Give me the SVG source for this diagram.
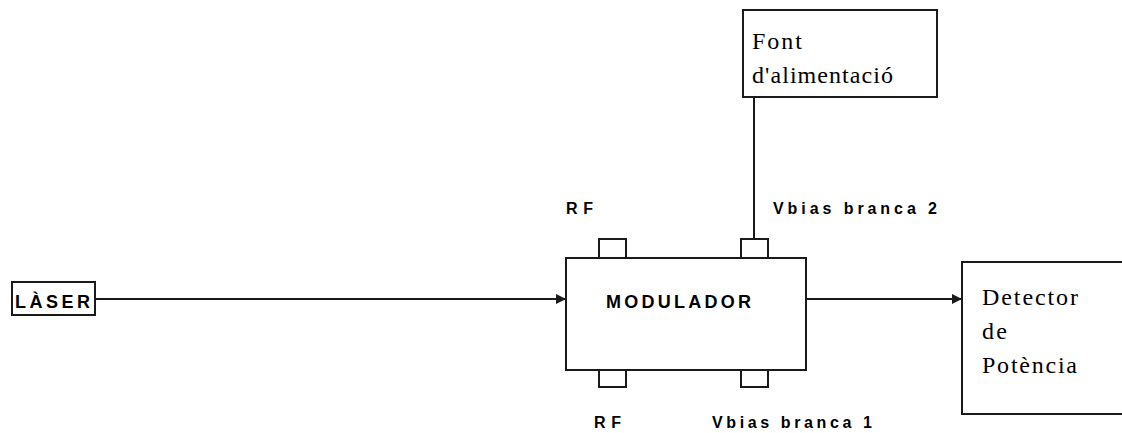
<svg xmlns="http://www.w3.org/2000/svg" width="1122" height="433" viewBox="0 0 1122 433">
<style>
.box{fill:#fff;stroke:#1a1a1a;stroke-width:2}
.port{fill:#fff;stroke:#1a1a1a;stroke-width:2}
.line{stroke:#1a1a1a;stroke-width:2;fill:none}
.sans{font-family:"Liberation Sans",Arial,sans-serif;font-weight:bold;fill:#000}
.serif{font-family:"Liberation Serif","Times New Roman",serif;font-size:24px;fill:#000}
</style>
<defs>
<marker id="arr" viewBox="0 0 10 10" refX="10" refY="5" markerWidth="5" markerHeight="5" orient="auto" markerUnits="strokeWidth">
<path d="M0,0 L10,5 L0,10 z" fill="#1a1a1a"/>
</marker>
</defs>
<rect width="1122" height="433" fill="#fff"/>
<g id="connectors">
<line class="line" x1="96" y1="299" x2="566" y2="299" marker-end="url(#arr)"/>
<line class="line" x1="806" y1="299" x2="962" y2="299" marker-end="url(#arr)"/>
<line class="line" x1="754" y1="97" x2="754" y2="239"/>
</g>
<g id="laser">
<rect class="box" x="12" y="282" width="83" height="33"/>
<text class="sans" x="15" y="308" font-size="18" textLength="75" lengthAdjust="spacing">LÀSER</text>
</g>
<g id="modulador">
<rect class="port" x="599" y="239" width="27" height="19"/>
<rect class="port" x="741" y="239" width="27" height="19"/>
<rect class="port" x="599" y="370" width="27" height="17"/>
<rect class="port" x="741" y="370" width="27" height="17"/>
<rect class="box" x="566" y="258" width="240" height="112"/>
<text class="sans" x="606" y="308" font-size="18" textLength="145" lengthAdjust="spacing">MODULADOR</text>
</g>
<g id="font">
<rect class="box" x="743" y="10" width="194" height="87"/>
<text class="serif" x="752" y="49" textLength="50" lengthAdjust="spacing">Font</text>
<text class="serif" x="752" y="83" textLength="141" lengthAdjust="spacing">d'alimentació</text>
</g>
<g id="detector">
<rect class="box" x="962" y="262" width="170" height="152"/>
<text class="serif" x="982" y="305" textLength="96" lengthAdjust="spacing">Detector</text>
<text class="serif" x="982" y="339" textLength="25" lengthAdjust="spacing">de</text>
<text class="serif" x="982" y="373" textLength="95" lengthAdjust="spacing">Potència</text>
</g>
<g id="labels">
<text class="sans" x="566" y="214" font-size="16" textLength="27" lengthAdjust="spacing">RF</text>
<text class="sans" x="773" y="214" font-size="16" textLength="164" lengthAdjust="spacing">Vbias branca 2</text>
<text class="sans" x="594" y="428" font-size="16" textLength="27" lengthAdjust="spacing">RF</text>
<text class="sans" x="712" y="428" font-size="16" textLength="160" lengthAdjust="spacing">Vbias branca 1</text>
</g>
</svg>
